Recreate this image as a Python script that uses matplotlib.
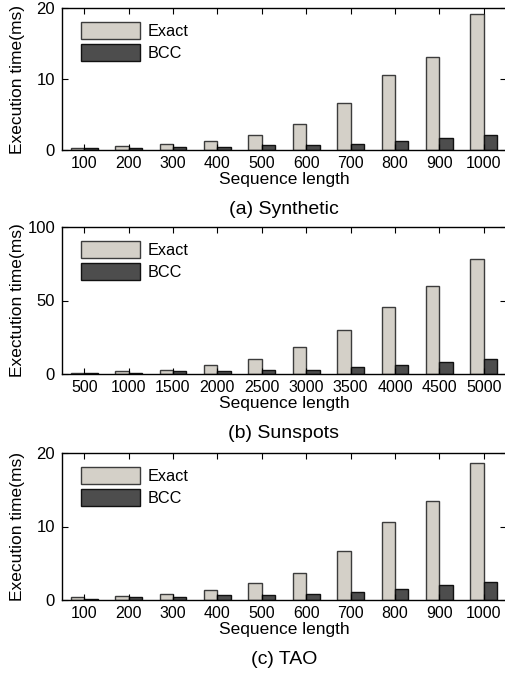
import numpy as np
import matplotlib
matplotlib.use("Agg")
import matplotlib.pyplot as plt

plt.rcParams["font.family"] = ["Liberation Sans", "DejaVu Sans"]

# (a) Synthetic
syn_lengths = ["100", "200", "300", "400", "500", "600", "700", "800", "900", "1000"]
syn_exact = [0.3, 0.5, 0.9, 1.3, 2.1, 3.6, 6.6, 10.6, 13.1, 19.1]
syn_bcc = [0.25, 0.25, 0.4, 0.45, 0.7, 0.7, 0.85, 1.3, 1.7, 2.1]

# (b) Sunspots
sun_lengths = ["500", "1000", "1500", "2000", "2500", "3000", "3500", "4000", "4500", "5000"]
sun_exact = [1, 2, 3, 6, 10.5, 18.5, 30, 45.5, 60, 78]
sun_bcc = [1, 1, 2, 2, 3, 3, 5, 6, 8, 10]

# (c) TAO
tao_lengths = ["100", "200", "300", "400", "500", "600", "700", "800", "900", "1000"]
tao_exact = [0.4, 0.6, 0.8, 1.4, 2.3, 3.7, 6.6, 10.6, 13.5, 18.7]
tao_bcc = [0.2, 0.4, 0.4, 0.65, 0.65, 0.85, 1.1, 1.5, 2.1, 2.5]

panels = [
    (syn_lengths, syn_exact, syn_bcc, 20, [0, 10, 20], "Execution time(ms)", "(a) Synthetic"),
    (sun_lengths, sun_exact, sun_bcc, 100, [0, 50, 100], "Exectution time(ms)", "(b) Sunspots"),
    (tao_lengths, tao_exact, tao_bcc, 20, [0, 10, 20], "Execution time(ms)", "(c) TAO"),
]

W, H = 505, 677
fig = plt.figure(figsize=(W / 100, H / 100), dpi=100)

# axes boxes in pixels: (top, bottom)
boxes = [(8, 150), (227, 374), (453, 600)]
left_px, right_px = 62, 506

for (labels, exact, bcc, ymax, yticks, ylabel, caption), (top, bot) in zip(panels, boxes):
    ax = fig.add_axes([left_px / W, 1 - bot / H, (right_px - left_px) / W, (bot - top) / H])
    x = np.arange(1, len(labels) + 1)
    w = 0.3
    ax.bar(x - w / 2, exact, w, color="#d4d0c8", edgecolor="#3c3c3c", linewidth=1.0, label="Exact")
    ax.bar(x + w / 2, bcc, w, color="#4d4d4d", edgecolor="#111111", linewidth=1.0, label="BCC")
    ax.set_xlim(0.5, len(labels) + 0.5)
    ax.set_ylim(0, ymax)
    ax.set_xticks(x)
    ax.set_xticklabels(labels)
    ax.set_yticks(yticks)
    ax.tick_params(direction="in", top=True, right=True, length=4, width=0.8, pad=4)
    ax.tick_params(axis="x", labelsize=11.5, pad=4)
    ax.tick_params(axis="y", labelsize=12, pad=5)
    for s in ax.spines.values():
        s.set_linewidth(1.0)
    ax.set_ylabel(ylabel, fontsize=12.5)
    # same right edge for every y label, as in the original figure
    ax.yaxis.set_label_coords((25 - left_px) / (right_px - left_px), 0.5)
    ax.set_xlabel("Sequence length", fontsize=12.5, labelpad=1)
    ax.legend(loc="upper left", frameon=False, fontsize=11.7, handlelength=3.6,
              handleheight=1.2, labelspacing=0.3, handletextpad=0.45,
              borderaxespad=0.3, bbox_to_anchor=(0.018, 0.98))
    fig.text((left_px + right_px) / 2 / W, 1 - (bot + 59) / H, caption,
             ha="center", va="center", fontsize=14)

fig.savefig("out.png", dpi=100)
